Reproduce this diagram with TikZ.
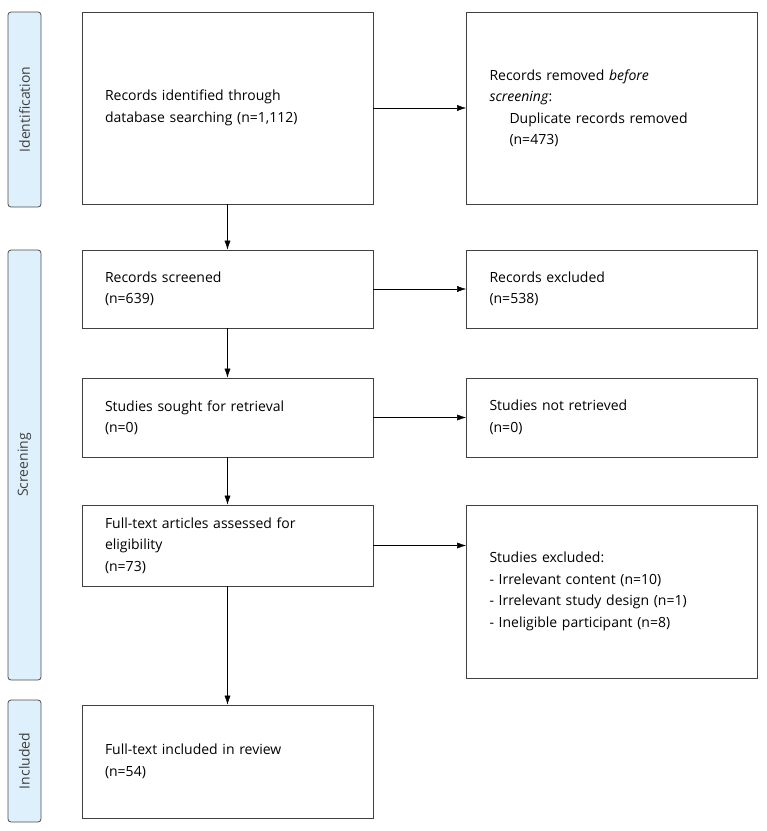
\documentclass[tikz,border=0pt]{standalone}
\usepackage{fontspec}
\setmainfont{Open Sans}
\usetikzlibrary{positioning,calc,arrows.meta}
\definecolor{phasefill}{RGB}{222,240,252}

\begin{document}
\begin{tikzpicture}[
      x=1pt, y=-1pt,
      font=\fontsize{14}{21.5}\selectfont,
      box/.style={draw=black!75, line width=0.8pt, minimum width=291pt, text width=245pt, inner xsep=23pt, align=left, minimum height=#1},
      phase/.style={draw=black!70, line width=0.8pt, fill=phasefill, rounded corners=3pt, minimum width=33pt, minimum height=#1, inner sep=0pt},
      >={Latex[length=9pt,width=6pt]}
    ]
    \useasboundingbox (0,0) rectangle (767,831);

    % Phase labels
    \node[phase=195pt] (ident) at (24.5,109.5) {};
    \node[rotate=90, text=black!75] at (ident) {Identification};
    \node[phase=430pt] (screen) at (24.5,465) {};
    \node[rotate=90, text=black!75] at (screen) {Screening};
    \node[phase=122pt] (incl) at (24.5,761) {};
    \node[rotate=90, text=black!75] at (incl) {Included};

    % Left column
    \node[box=192pt] (ids) at (227.5,108) {Records identified through\\database searching (n=1,112)};
    \node[box=78pt] (scr) at (227.5,289) {Records screened\\(n=639)};
    \node[box=79pt] (sought) at (227.5,417.5) {Studies sought for retrieval\\(n=0)};
    \node[box=81pt] (full) at (227.5,545.5) {Full-text articles assessed for\\eligibility\\(n=73)};
    \node[box=113pt] (inc) at (227.5,761.5) {Full-text included in review\\(n=54)};

    % Right column
    \node[box=192pt] (dup) at (612,108) {Records removed \emph{before}\\\emph{screening}:\\\hspace*{20pt}Duplicate records removed\\\hspace*{20pt}(n=473)};
    \node[box=78pt] (excl) at (612,289) {Records excluded\\(n=538)};
    \node[box=79pt] (notret) at (612,417.5) {Studies not retrieved\\(n=0)};
    \node[box=173pt] (stexcl) at (612,591.5) {Studies excluded:\\- Irrelevant content (n=10)\\- Irrelevant study design (n=1)\\- Ineligible participant (n=8)};

    % Arrows
    \draw[->] (ids) -- (dup);
    \draw[->] (scr) -- (excl);
    \draw[->] (sought) -- (notret);
    \draw[->] (full.east) -- (full.east -| stexcl.west);
    \draw[->] (ids) -- (scr);
    \draw[->] (scr) -- (sought);
    \draw[->] (sought) -- (full);
    \draw[->] (full) -- (inc);
\end{tikzpicture}
\end{document}
